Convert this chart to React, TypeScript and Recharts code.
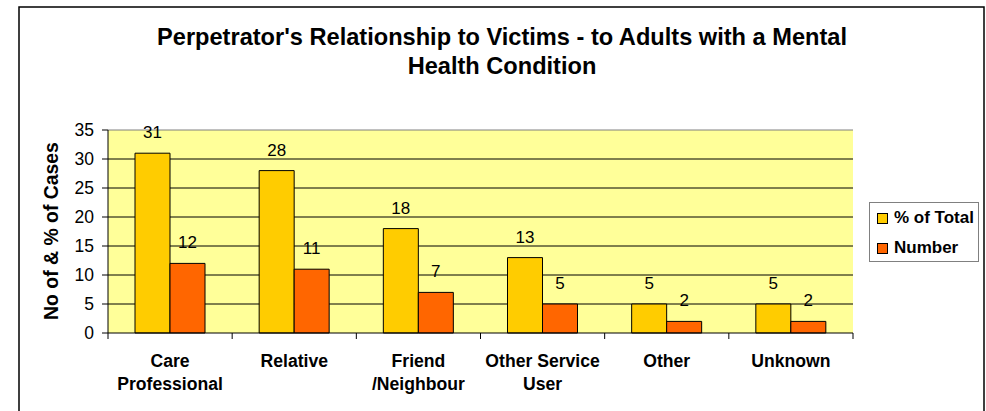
import React from "react";
import {
  BarChart,
  Bar,
  XAxis,
  YAxis,
  CartesianGrid,
  Legend,
  LabelList,
  ReferenceLine,
} from "recharts";

const categories = [
  "Care Professional",
  "Relative",
  "Friend /Neighbour",
  "Other Service User",
  "Other",
  "Unknown",
];
const categoryLines: string[][] = [
  ["Care", "Professional"],
  ["Relative"],
  ["Friend", "/Neighbour"],
  ["Other Service", "User"],
  ["Other"],
  ["Unknown"],
];
const pctOfTotal = [31, 28, 18, 13, 5, 5];
const numberOfCases = [12, 11, 7, 5, 2, 2];
const yTicks = [0, 5, 10, 15, 20, 25, 30, 35];
const gridValues = [5, 10, 15, 20, 25, 30];
const titleLines = [
  "Perpetrator's Relationship to Victims - to Adults with a Mental",
  "Health Condition",
];
const yLabel = "No of & % of Cases";
const seriesNames = ["% of Total", "Number"];

const data = categories.map((c, i) => ({
  name: c,
  lines: categoryLines[i],
  pct: pctOfTotal[i],
  num: numberOfCases[i],
}));

const FONT = "'Liberation Sans', Arial, Helvetica, sans-serif";
const YELLOW = "#FFCC00";
const ORANGE = "#FF6600";

const CategoryTick = (props: any) => {
  const { x, y, payload, index } = props;
  const half = payload && payload.offset ? payload.offset : 62;
  const lines = categoryLines[index] || [String(payload.value)];
  return (
    <g>
      <line x1={x - half} x2={x - half} y1={y} y2={y + 6} stroke="#000" />
      {index === categories.length - 1 && (
        <line x1={x + half} x2={x + half} y1={y} y2={y + 6} stroke="#000" />
      )}
      {lines.map((l, i) => (
        <text
          key={i}
          x={x}
          y={y + 34 + i * 23}
          textAnchor="middle"
          fontFamily={FONT}
          fontWeight="bold"
          fontSize={17.6}
          fill="#000"
        >
          {l}
        </text>
      ))}
    </g>
  );
};

const ValueLabel = (props: any) => {
  const { x, y, width, value } = props;
  return (
    <text
      x={x + width / 2}
      y={y - 15}
      textAnchor="middle"
      fontFamily={FONT}
      fontSize={17}
      fill="#000"
    >
      {value}
    </text>
  );
};

const LegendBox = () => {
  const colors = [YELLOW, ORANGE];
  return (
    <div
      style={{
        width: 110,
        height: 60,
        boxSizing: "border-box",
        border: "1px solid #808080",
        background: "#fff",
        position: "relative",
        fontFamily: FONT,
      }}
    >
      {seriesNames.map((n, i) => (
        <div
          key={n}
          style={{
            position: "absolute",
            left: 7,
            top: 5 + i * 30,
            height: 20,
            display: "flex",
            alignItems: "center",
          }}
        >
          <div
            style={{
              width: 11,
              height: 11,
              boxSizing: "border-box",
              border: "1px solid #000",
              background: colors[i],
              marginRight: 6,
            }}
          />
          <span style={{ fontSize: 17, fontWeight: "bold", color: "#000", whiteSpace: "nowrap" }}>
            {n}
          </span>
        </div>
      ))}
    </div>
  );
};

export default function App() {
  return (
    <div
      style={{
        position: "absolute",
        left: 0,
        top: 0,
        width: 986,
        height: 411,
        background: "#fff",
        overflow: "hidden",
      }}
    >
      <svg
        width={986}
        height={411}
        style={{ position: "absolute", left: 0, top: 0 }}
      >
        <rect x={19} y={7} width={965} height={430} fill="#fff" stroke="#000" strokeWidth={1.5} />
        {titleLines.map((t, i) => (
          <text
            key={i}
            x={502}
            y={45 + i * 29}
            textAnchor="middle"
            fontFamily={FONT}
            fontWeight="bold"
            fontSize={23.6}
            fill="#000"
          >
            {t}
          </text>
        ))}
        <text
          transform="translate(58,231) rotate(-90)"
          textAnchor="middle"
          fontFamily={FONT}
          fontWeight="bold"
          fontSize={19.4}
          fill="#000"
        >
          {yLabel}
        </text>
      </svg>
      <div style={{ position: "absolute", left: 0, top: 0 }}>
        <BarChart
          width={986}
          height={411}
          data={data}
          margin={{ top: 130, right: 133, bottom: 0, left: 0 }}
          barCategoryGap={27}
          barGap={0}
        >
          <CartesianGrid
            fill="#FFFF99"
            stroke="#000"
            vertical={false}
            horizontalValues={gridValues}
          />
          <ReferenceLine y={35} stroke="#808080" />
          <XAxis
            dataKey="name"
            height={78}
            tickLine={false}
            tickSize={0}
            tickMargin={0}
            axisLine={{ stroke: "#000" }}
            tick={<CategoryTick />}
            interval={0}
          />
          <YAxis
            width={108}
            domain={[0, 35]}
            ticks={yTicks}
            interval={0}
            tickSize={6}
            tickMargin={8}
            axisLine={{ stroke: "#000" }}
            tickLine={{ stroke: "#000" }}
            tick={{ fontFamily: FONT, fontSize: 17.5, fill: "#000" }}
          />
          <YAxis
            yAxisId="r"
            orientation="right"
            width={0}
            domain={[0, 35]}
            tick={false}
            tickLine={false}
            axisLine={{ stroke: "#808080" }}
          />
          <Legend
            layout="vertical"
            align="center"
            verticalAlign="middle"
            wrapperStyle={{ left: 869, top: 202, width: 110, height: 60 }}
            content={<LegendBox />}
          />
          <Bar dataKey="pct" name={seriesNames[0]} fill={YELLOW} stroke="#000" strokeWidth={1} isAnimationActive={false}>
            <LabelList dataKey="pct" content={<ValueLabel />} />
          </Bar>
          <Bar dataKey="num" name={seriesNames[1]} fill={ORANGE} stroke="#000" strokeWidth={1} isAnimationActive={false}>
            <LabelList dataKey="num" content={<ValueLabel />} />
          </Bar>
        </BarChart>
      </div>
    </div>
  );
}
